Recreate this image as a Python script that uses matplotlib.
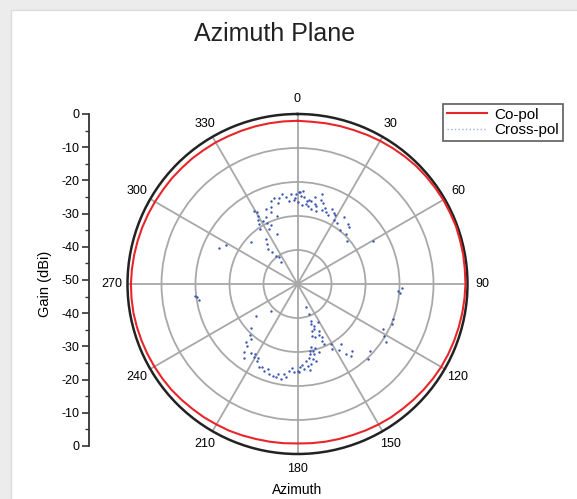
import numpy as np
import matplotlib
matplotlib.use("Agg")
import matplotlib.pyplot as plt
from matplotlib.patches import Rectangle
from matplotlib.lines import Line2D

plt.rcParams['font.family'] = ['Liberation Sans', 'DejaVu Sans']

# ---------------- data ----------------
copol_angle_deg = list(range(0, 361, 5))
copol_gain = [-2.0, -2.1, -2.0, -1.9, -1.8, -1.6, -1.4, -1.2, -1.0, -0.8,
              -0.7, -0.6, -0.5, -0.5, -0.4, -0.5, -0.5, -0.6, -0.6, -0.7,
              -0.8, -0.9, -1.0, -1.1, -1.2, -1.4, -1.6, -1.8, -2.0, -2.1,
              -2.3, -2.5, -2.7, -2.8, -2.9, -3.0, -3.1, -3.0, -2.9, -2.8,
              -2.6, -2.4, -2.3, -2.1, -2.0, -1.8, -1.6, -1.5, -1.4, -1.3,
              -1.2, -1.1, -1.0, -1.0, -1.0, -1.1, -1.2, -1.3, -1.4, -1.5,
              -1.6, -1.7, -1.7, -1.8, -1.8, -1.9, -1.9, -2.0, -2.0, -2.0,
              -2.0, -2.0, -2.0]

crosspol_angle_deg = [350.5, 352.3, 354.3, 357.7, 1.0, 3.1, 4.4, 5.9, 10.1, 13.2,
                      15.5, 15.6, 21.6, 25.0, 30.1, 35.0, 42.4, 44.0, 49.1, 60.4,
                      93.8, 92.2, 329.4, 329.7, 331.1, 337.1, 339.6, 342.3, 327.4, 332.7,
                      324.9, 311.8, 323.1, 322.6, 325.5, 322.4, 294.7, 298.8, 262.4, 261.0,
                      160.3, 158.7, 160.0, 158.2, 152.4, 155.1, 154.9, 156.0, 168.1, 167.3,
                      166.6, 171.0, 166.6, 173.0, 175.5, 178.9, 150.9, 144.2, 145.4, 143.3,
                      137.0, 120.8, 123.4, 110.2, 112.8, 225.0, 220.3, 221.5, 218.0, 210.6,
                      207.6, 201.0, 197.5, 193.1, 190.0, 188.4, 185.5, 182.2, 180.0, 348.0,
                      346.5, 8.0, 2.0, 359.0, 12.0, 18.0, 27.0, 161.5, 163.5, 169.5,
                      164.0, 170.0, 176.5, 195.0, 203.5, 214.0, 1.5, 6.5, 345.0, 333.5,
                      356.0, 358.0, 0.5, 3.5, 7.5, 9.0, 11.5, 14.0, 17.5, 20.0,
                      23.5, 28.5, 33.0, 38.0, 40.0, 328.5, 330.5, 326.0, 334.5, 336.0,
                      320.5, 321.5, 338.0, 343.0, 341.0, 157.0, 159.5, 162.0, 156.5, 165.0,
                      168.5, 170.5, 172.0, 174.0, 162.5, 148.0, 152.0, 141.0, 133.0, 199.0,
                      205.0, 211.5, 216.0, 219.5, 223.0, 192.0, 187.0, 184.0, 178.0, 226.5,
                      232.0, 208.5, 95.0, 263.5, 118.0]
crosspol_gain = [-23.1, -24.3, -25.4, -25.3, -23.0, -22.5, -24.4, -26.4, -27.6, -26.4,
                 -22.5, -24.5, -27.3, -25.7, -28.4, -26.1, -27.4, -29.5, -30.6, -24.6,
                 -20.5, -19.1, -24.9, -26.7, -28.7, -26.1, -27.5, -24.3, -29.0, -31.8,
                 -33.8, -31.6, -35.3, -39.5, -40.5, -42.0, -24.6, -26.0, -20.3, -20.8,
                 -42.7, -40.5, -38.5, -36.8, -37.3, -34.9, -32.7, -30.7, -31.0, -29.9,
                 -28.8, -28.1, -26.8, -25.8, -24.9, -24.0, -29.8, -28.2, -25.0, -23.7,
                 -19.8, -20.3, -18.8, -20.2, -19.7, -38.9, -28.8, -27.1, -24.5, -24.9,
                 -24.6, -22.7, -22.3, -21.9, -21.7, -23.2, -24.4, -24.0, -24.5, -24.0,
                 -25.5, -25.0, -24.0, -23.5, -25.8, -27.0, -26.5, -33.5, -35.5, -30.0,
                 -34.0, -29.0, -26.0, -22.0, -23.5, -25.5, -22.8, -25.5, -23.8, -29.8,
                 -23.5, -24.8, -25.8, -26.8, -27.0, -25.2, -23.8, -28.0, -25.0, -26.2,
                 -27.8, -27.0, -28.6, -29.8, -26.8, -27.8, -25.8, -30.5, -28.2, -31.0,
                 -36.5, -38.0, -34.0, -29.0, -26.0, -33.8, -35.8, -37.5, -31.8, -30.5,
                 -27.5, -26.0, -24.5, -27.2, -29.0, -27.0, -28.5, -24.5, -21.0, -23.5,
                 -23.0, -26.0, -23.2, -26.5, -29.5, -23.0, -22.3, -25.2, -25.5, -31.0,
                 -34.5, -25.4, -19.8, -19.6, -21.5]

angle_tick_labels = ['0', '30', '60', '90', '120', '150', '180', '210', '240', '270', '300', '330']
gain_tick_values = [0, 10, 20, 30, 40, 50, 60, 70, 80, 90, 100]
gain_tick_labels = ['0', '-10', '-20', '-30', '-40', '-50', '-40', '-30', '-20', '-10', '0']

# ---------------- figure ----------------
W, H = 577, 499
fig = plt.figure(figsize=(W / 100, H / 100), dpi=100)
fig.patch.set_facecolor('#ececec')
fig.patches.append(Rectangle((11 / W, -0.01), 1, 1.01 - 10 / H, transform=fig.transFigure,
                             facecolor='white', edgecolor='#dcdcdc', linewidth=1.0, zorder=-5))

def px_box(x0, y0, x1, y1):
    return [x0 / W, 1 - y1 / H, (x1 - x0) / W, (y1 - y0) / H]

# polar axes
ax = fig.add_axes(px_box(127, 114, 468, 454), projection='polar')
ax.set_theta_zero_location('N')
ax.set_theta_direction(-1)
ax.set_rlim(-50, 0)
ax.set_facecolor('none')

ax.plot(np.deg2rad(copol_angle_deg), copol_gain, color='#e8262a', linewidth=1.5, zorder=3)
ax.scatter(np.deg2rad(crosspol_angle_deg), crosspol_gain, s=3.0, color='#3a55b0',
           linewidths=0, zorder=3)

ax.set_thetagrids(np.arange(0, 360, 30), labels=angle_tick_labels)
ax.set_xticks(np.deg2rad(np.arange(15, 360, 30)), minor=True)
ax.tick_params(axis='x', which='major', labelsize=9, pad=4, length=0)
ax.tick_params(axis='x', which='minor', direction='in', length=4, width=1, color='#333333')
ax.set_rgrids([-40, -30, -20, -10], labels=[])
ax.grid(True, color='#a8a8a8', linewidth=1.3)
ax.spines['polar'].set_color('#222222')
ax.spines['polar'].set_linewidth(1.8)

# left gain axis
lax = fig.add_axes(px_box(89, 114, 90, 446))
lax.set_ylim(0, 100)
lax.set_xlim(0, 1)
for s in ['top', 'right', 'bottom']:
    lax.spines[s].set_visible(False)
lax.spines['left'].set_color('#333333')
lax.spines['left'].set_linewidth(1.3)
lax.set_xticks([])
lax.set_yticks(gain_tick_values)
lax.set_yticklabels(gain_tick_labels[::-1])
lax.set_yticks(np.arange(5, 100, 5), minor=True)
lax.tick_params(axis='y', which='major', length=5, width=1.2, color='#333333', labelsize=9, pad=2)
lax.tick_params(axis='y', which='minor', length=3, width=1, color='#333333')
lax.patch.set_visible(False)

fig.text(45 / W, 1 - 284 / H, 'Gain (dBi)', rotation=90, ha='center', va='center', fontsize=10.5)
fig.text(275 / W, 1 - 34 / H, 'Azimuth Plane', ha='center', va='center', fontsize=18, color='#222222')
fig.text(297 / W, 1 - 490 / H, 'Azimuth', ha='center', va='center', fontsize=10)

handles = [Line2D([], [], color='#e8262a', linewidth=1.5),
           Line2D([], [], color='#9fb0d8', linewidth=1.0, linestyle=':')]
leg = fig.legend(handles, ['Co-pol', 'Cross-pol'], loc='upper left',
                 bbox_to_anchor=(443 / W, 1 - 104 / H), fontsize=11, frameon=True,
                 fancybox=False, handlelength=2.6, handletextpad=0.5, borderpad=0.25,
                 labelspacing=0.1, borderaxespad=0)
leg.get_frame().set_edgecolor('#333333')
leg.get_frame().set_linewidth(1.2)

fig.savefig('out.png', dpi=100, facecolor=fig.get_facecolor())
